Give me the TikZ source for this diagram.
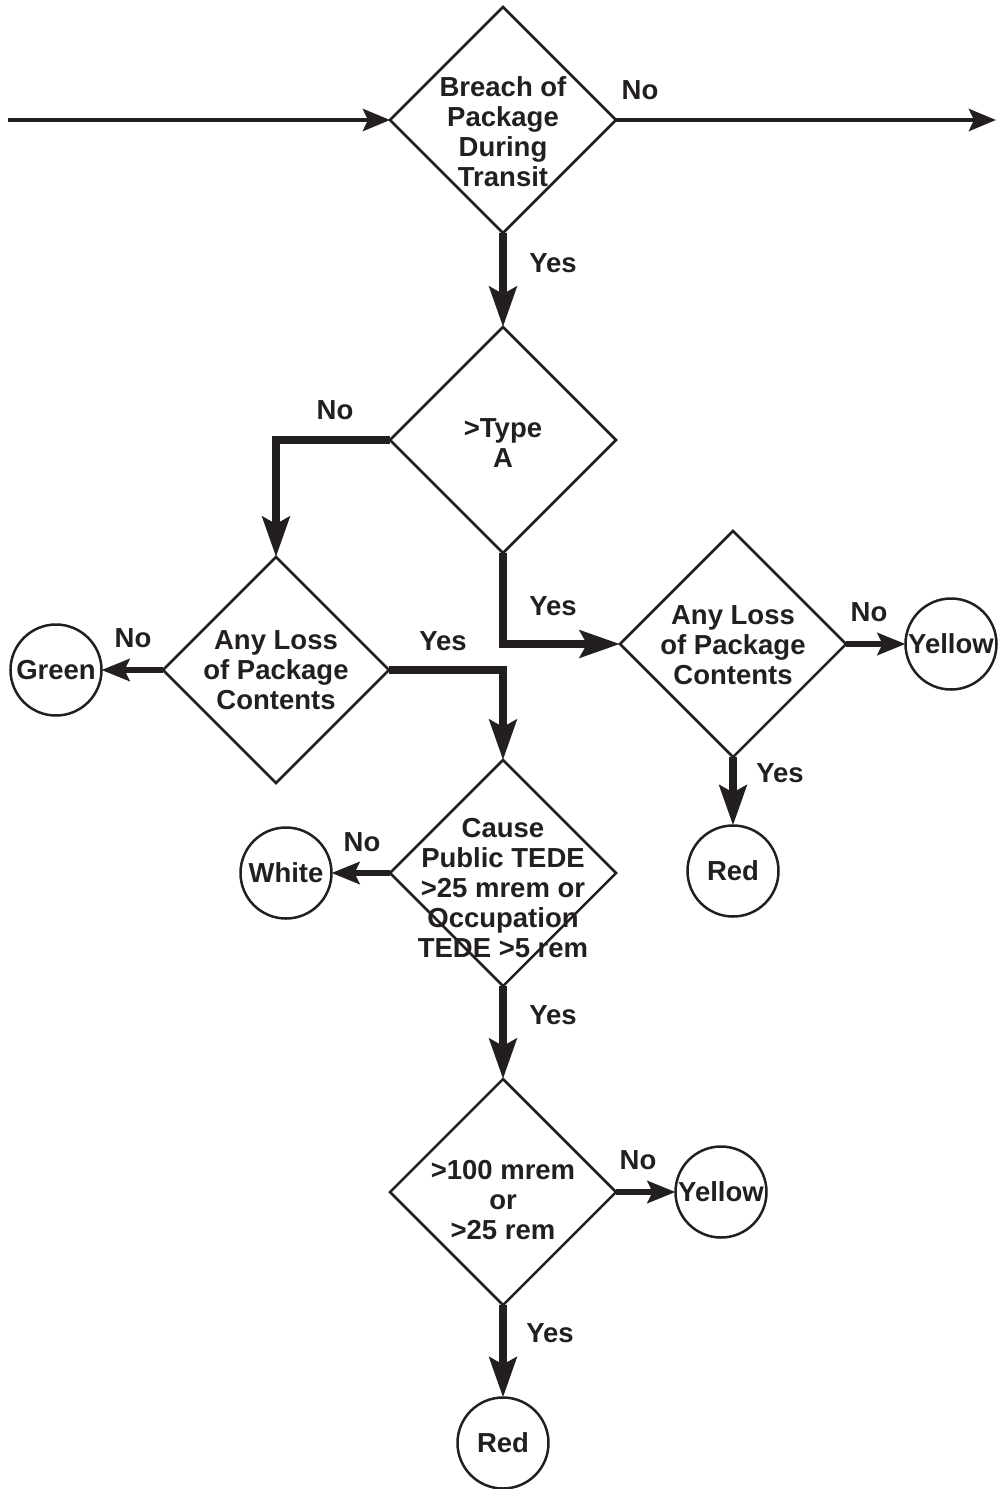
\documentclass[tikz,border=0pt]{standalone}
\usepackage{fontspec}
\setmainfont{Liberation Sans}
\usepackage{xcolor}
\usepackage{tikz}
\usetikzlibrary{arrows.meta,shapes.geometric}
\definecolor{ink}{HTML}{231F20}

\begin{document}
\begin{tikzpicture}[
  x=1pt, y=-1pt,
  font=\fontsize{27.5}{30}\selectfont\bfseries, color=ink,
  decision/.style={draw=ink, diamond, aspect=1, minimum width=226pt, minimum height=226pt,
                   inner sep=0pt, outer sep=0pt, line width=2.5pt},
  txt/.style={align=center, inner sep=0pt},
  outcome/.style={draw=ink, circle, minimum size=91pt, inner sep=0pt, outer sep=0pt, line width=2.5pt},
  lbl/.style={inner sep=0pt},
  flow/.style={draw=ink, line width=4.8pt, -{Stealth[length=27pt, width=22pt, inset=5pt]}},
  branch/.style={draw=ink, line width=8pt, -{Stealth[length=40pt, width=27pt, inset=7pt]}},
  exit/.style={draw=ink, line width=5.5pt, -{Stealth[length=28pt, width=22pt, inset=5pt]}}
]
\useasboundingbox (0,0) rectangle (997,1489);

% decisions
\node[decision] (breach) at (503,120) {};
\node[txt] (breachtxt) at (503,132) {Breach of\\Package\\During\\Transit};
\node[decision] (typea) at (503,440) {};
\node[txt] (typeatxt) at (503,443) {>Type\\A};
\node[decision] (lossr) at (733,644) {};
\node[txt] (lossrtxt) at (733,645) {Any Loss\\of Package\\Contents};
\node[decision] (lossl) at (276,670) {};
\node[txt] (lossltxt) at (276,670) {Any Loss\\of Package\\Contents};
\node[decision] (cause) at (503,873) {};
\node[txt] (causetxt) at (503,888) {Cause\\Public TEDE\\>25 mrem or\\Occupation\\TEDE >5 rem};
\node[decision] (dose) at (503,1192) {};
\node[txt] (dosetxt) at (503,1200) {>100 mrem\\or\\>25 rem};

% outcomes
\node[outcome] (yellowr) at (951,644) {Yellow};
\node[outcome] (redr) at (733,871) {Red};
\node[outcome] (green) at (56,670) {Green};
\node[outcome] (white) at (286,873) {White};
\node[outcome] (yellowb) at (721,1192) {Yellow};
\node[outcome] (redb) at (503,1443) {Red};

\coordinate (in) at (8,120);
\coordinate (out) at (996,120);

% connectors
\draw[flow] (in) -- (breach.west);
\draw[flow] (breach.east) -- (out);
\draw[branch] (breach.south) -- (typea.north);
\draw[branch] (typea.west) -| (lossl.north);
\draw[branch] (typea.south) |- (lossr.west);
\draw[exit] (lossr.east) -- (yellowr.west);
\draw[branch] (lossr.south) -- (redr.north);
\draw[exit] (lossl.west) -- (green.east);
\draw[branch] (lossl.east) -| (cause.north);
\draw[exit] (cause.west) -- (white.east);
\draw[branch] (cause.south) -- (dose.north);
\draw[exit] (dose.east) -- (yellowb.west);
\draw[branch] (dose.south) -- (redb.north);

% labels
\node[lbl] (nobreach) at (640,90) {No};
\node[lbl] (yesbreach) at (553,263) {Yes};
\node[lbl] (notypea) at (335,410) {No};
\node[lbl] (yestypea) at (553,606) {Yes};
\node[lbl] (nolossr) at (869,612) {No};
\node[lbl] (yeslossr) at (780,773) {Yes};
\node[lbl] (nolossl) at (133,638) {No};
\node[lbl] (yeslossl) at (443,641) {Yes};
\node[lbl] (nocause) at (362,842) {No};
\node[lbl] (yescause) at (553,1015) {Yes};
\node[lbl] (nodose) at (638,1160) {No};
\node[lbl] (yesdose) at (550,1333) {Yes};
\end{tikzpicture}
\end{document}
